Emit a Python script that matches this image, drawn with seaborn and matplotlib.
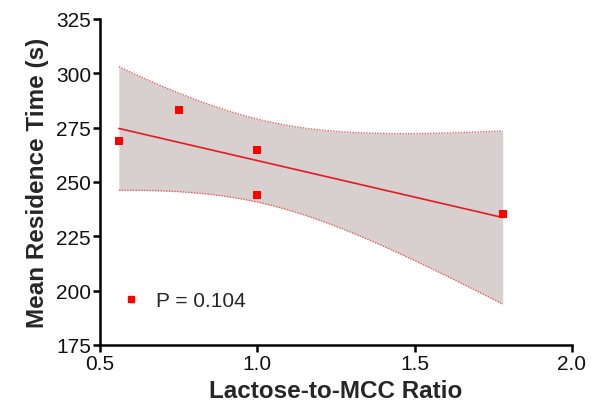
import numpy as np
import pandas as pd
import matplotlib
matplotlib.use("Agg")
import matplotlib.pyplot as plt
import seaborn as sns
from matplotlib.lines import Line2D

# Measurements
ratio = [0.56, 0.75, 1.00, 1.00, 1.78]
residence_time = [269.0, 283.3, 264.7, 243.9, 235.3]
p_label = "P = 0.104"
x_ticks = [0.5, 1.0, 1.5, 2.0]
y_ticks = [175, 200, 225, 250, 275, 300, 325]

sns.set_theme(style="ticks")
plt.rcParams["font.family"] = ["Liberation Sans", "DejaVu Sans"]

df = pd.DataFrame({"ratio": ratio, "time": residence_time})

# Ordinary least squares fit with 95% confidence band of the mean
x = np.asarray(ratio)
y = np.asarray(residence_time)
n = len(x)
slope, intercept = np.polyfit(x, y, 1)
resid = y - (slope * x + intercept)
s = np.sqrt(np.sum(resid ** 2) / (n - 2))
sxx = np.sum((x - x.mean()) ** 2)
t_crit = 3.182446305284263  # t(0.975, df=3)
xf = np.linspace(x.min(), x.max(), 200)
yf = slope * xf + intercept
half = t_crit * s * np.sqrt(1.0 / n + (xf - x.mean()) ** 2 / sxx)
fit = pd.DataFrame({"ratio": xf, "time": yf})

fig = plt.figure(figsize=(5.91, 4.06), dpi=100)
ax = fig.add_axes([0.1692, 0.1478, 0.7986, 0.803])

ax.fill_between(xf, yf - half, yf + half, color="#d8cfcf", lw=0, zorder=1)
ax.plot(xf, yf + half, color="#e86060", lw=1.0, ls=(0, (1, 1)), zorder=2)
ax.plot(xf, yf - half, color="#e86060", lw=1.0, ls=(0, (1, 1)), zorder=2)
sns.lineplot(data=fit, x="ratio", y="time", color="#e8191f", lw=1.2, ax=ax, zorder=3)
sns.scatterplot(data=df, x="ratio", y="time", marker="s", s=32, color="#ff0000",
                edgecolor="none", ax=ax, zorder=4)

ax.set_xlim(0.5, 2.0)
ax.set_ylim(175, 325)
ax.set_xticks(x_ticks)
ax.set_xticklabels([f"{v:.1f}" for v in x_ticks])
ax.set_yticks(y_ticks)
ax.set_yticklabels([str(v) for v in y_ticks])

for side in ("top", "right"):
    ax.spines[side].set_visible(False)
for side in ("left", "bottom"):
    ax.spines[side].set_linewidth(1.8)
    ax.spines[side].set_color("black")
ax.tick_params(axis="both", direction="out", length=5, width=1.8, color="black",
               labelsize=15, labelcolor="#111111", pad=1.5)

ax.set_xlabel("Lactose-to-MCC Ratio", fontsize=17.5, fontweight="bold", labelpad=4)
ax.set_ylabel("Mean Residence Time (s)", fontsize=17.5, fontweight="bold", labelpad=5)

handle = Line2D([], [], marker="s", ls="none", color="#ff0000", markersize=4.5)
ax.legend([handle], [p_label], loc="center left", bbox_to_anchor=(0.0, 0.135),
          frameon=False, fontsize=15, handletextpad=0.6, handlelength=1.2)

fig.savefig("out.png", dpi=100)
